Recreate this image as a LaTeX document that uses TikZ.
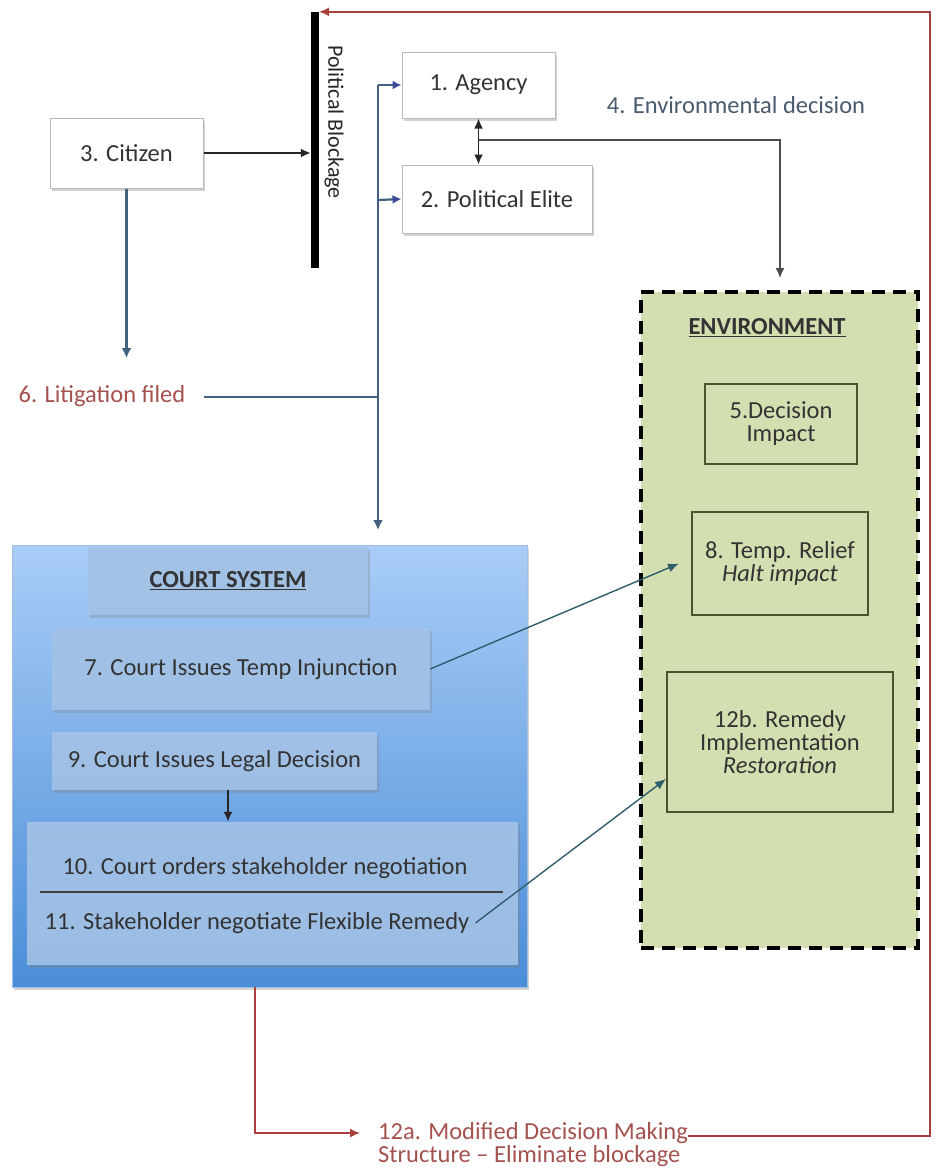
\documentclass[tikz,border=0pt]{standalone}
\usepackage{fontspec}
\setmainfont{Carlito}
\usetikzlibrary{arrows.meta,shadows,positioning}

\definecolor{linkblue}{HTML}{43607F}
\definecolor{tipblue}{HTML}{3C4A9A}
\definecolor{redline}{HTML}{A8403C}
\definecolor{redtext}{HTML}{A4524E}
\definecolor{slate}{HTML}{4A5A6E}
\definecolor{envgreen}{HTML}{D3DFB0}
\definecolor{envline}{HTML}{46562E}
\definecolor{courttop}{HTML}{A9CDF7}
\definecolor{courtbot}{HTML}{4A8DD8}
\definecolor{courtbox}{HTML}{A3C3E8}
\definecolor{tealline}{HTML}{2F5E6C}
\definecolor{textgray}{HTML}{333333}

\tikzset{
	txt/.style={font=\fontsize{24.5}{23}\selectfont, text=textgray, inner sep=0pt},
	whitebox/.style={txt, draw=gray!55, fill=white, line width=1pt,
		drop shadow={opacity=0.35, shadow xshift=1.5pt, shadow yshift=-2.5pt}},
	courtpanel/.style={txt, fill=courtbox, fill opacity=0.9, text opacity=1,
		drop shadow={opacity=0.3, shadow xshift=1.5pt, shadow yshift=-2.5pt}},
	envbox/.style={txt, draw=envline, line width=2pt, align=center},
	blackarrow/.style={draw=black!85, line width=1.8pt, -{Latex[length=10pt,width=9pt]}},
	bluearrow/.style={draw=linkblue, line width=2.2pt, -{Latex[length=10pt,width=10pt]}},
	tiparrow/.style={draw=linkblue, line width=2.2pt, -{Latex[length=9pt,width=9pt,color=tipblue]}},
	tealarrow/.style={draw=tealline, line width=1.4pt, -{Latex[length=11pt,width=9pt]}},
	redarrow/.style={draw=redline, line width=1.4pt, -{Latex[length=10pt,width=9pt]}}
}

\begin{document}
\begin{tikzpicture}[x=1pt, y=-1pt]
	\useasboundingbox (0,0) rectangle (935,1170);

	% Environment
	\node[txt, draw=black, fill=envgreen, line width=3.5pt, dash pattern=on 13pt off 8pt,
		minimum width=277pt, minimum height=656pt] (env) at (779.5,620) {};
	\node[txt, font=\fontsize{24.5}{23}\selectfont\bfseries] (envtitle) at (767,328) {\underline{ENVIRONMENT}};
	\node[envbox, minimum width=152pt, minimum height=80pt] (impact) at (781,424) {5.Decision\\Impact};
	\node[envbox, minimum width=176pt, minimum height=103pt] (relief) at (780,563.5) {8. Temp. Relief\\\textit{Halt impact}};
	\node[envbox, minimum width=226pt, minimum height=140pt] (remedy) at (780,742) {12b. Remedy\\Implementation\\\textit{Restoration}};

	% Court system
	\node[txt, top color=courttop, bottom color=courtbot, draw=courttop!80!gray, line width=0.8pt,
		minimum width=515pt, minimum height=442pt,
		drop shadow={opacity=0.35, shadow xshift=2pt, shadow yshift=-3pt}] (court) at (269.5,766) {};
	\node[courtpanel, minimum width=280pt, minimum height=68pt] (courttitle) at (228,581) {\textbf{\underline{COURT SYSTEM}}};
	\node[courtpanel, minimum width=378pt, minimum height=82pt] (injunction) at (241,669) {7. Court Issues Temp Injunction};
	\node[courtpanel, minimum width=325pt, minimum height=58pt] (legal) at (214.5,761) {9. Court Issues Legal Decision};
	\node[courtpanel, minimum width=491pt, minimum height=143pt] (negotbox) at (272.5,893.5) {};
	\node[txt] (orders) at (265,868) {10. Court orders stakeholder negotiation};
	\node[txt] (stakeholder) at (257,923) {11. Stakeholder negotiate Flexible Remedy};
	\draw[line width=1.6pt, black!75] (40,892) -- (503,892);

	% Actors
	\node[whitebox, minimum width=153pt, minimum height=70pt] (citizen) at (126.5,153) {3. Citizen};
	\node[whitebox, minimum width=153pt, minimum height=66pt] (agency) at (478.5,85) {1. Agency};
	\node[whitebox, minimum width=190pt, minimum height=68pt] (elite) at (497,199) {2. Political Elite};

	% Blockage
	\node[fill=black, minimum width=8pt, minimum height=256pt, inner sep=0pt] (blockage) at (315,140) {};
	\node[txt, rotate=-90, text=black!85, font=\fontsize{22}{23}\selectfont] (blocklabel) at (334,122) {Political Blockage};

	% Labels
	\node[txt, text=slate] (envdecision) at (736,105) {4. Environmental decision};
	\node[txt, text=redtext] (litigation) at (102,396) {6. Litigation filed};
	\node[txt, text=redtext, anchor=west] (modified) at (378,1133) {12a. Modified Decision Making};
	\node[txt, text=redtext, anchor=west] (modified2) at (378,1156) {Structure -- Eliminate blockage};

	% Coordinates
	\coordinate (citizenend) at (126.5,358);
	\coordinate (litjoin) at (378,397);
	\coordinate (agencyjoin) at (378,85);
	\coordinate (elitejoin) at (378,200);
	\coordinate (courtin) at (378,530);
	\coordinate (decisionjoin) at (478.5,140);
	\coordinate (envin) at (780,278);
	\coordinate (redfoot) at (255,1133);
	\coordinate (redcorner) at (930,1136);

	% Citizen flows
	\draw[blackarrow] (citizen.east) -- (blockage.west |- citizen.east);
	\draw[bluearrow] (citizen.south) -- (citizenend);
	\draw[draw=linkblue, line width=2.2pt] ([xshift=18pt]litigation.east |- litjoin) -- (litjoin);
	\draw[bluearrow] (agencyjoin) -- (courtin);
	\draw[tiparrow] (agencyjoin) -- (agency.west);
	\draw[tiparrow] (elitejoin) -- (elite.west);

	% Decision flows
	\draw[blackarrow, {Latex[length=10pt,width=9pt]}-{Latex[length=10pt,width=9pt]}] (agency.south) -- (agency.south |- elite.north);
	\draw[draw=black!70, line width=1.4pt, -{Latex[length=10pt,width=9pt]}] (decisionjoin) -| (envin);

	% Court to environment
	\draw[tealarrow] (injunction.east) -- ([xshift=-12pt]relief.west);
	\draw[tealarrow] ([xshift=6pt]stakeholder.east) -- ([yshift=34pt]remedy.south west);
	\draw[blackarrow] (legal.south -| 228,0) -- (negotbox.north -| 228,0);

	% Feedback loop
	\draw[redarrow] (redfoot |- court.south) -- (redfoot) -- ([xshift=-18pt]modified.west);
	\draw[redarrow] ([yshift=-3pt]modified.east) -- (redcorner) |- (blockage.north east);
\end{tikzpicture}
\end{document}
